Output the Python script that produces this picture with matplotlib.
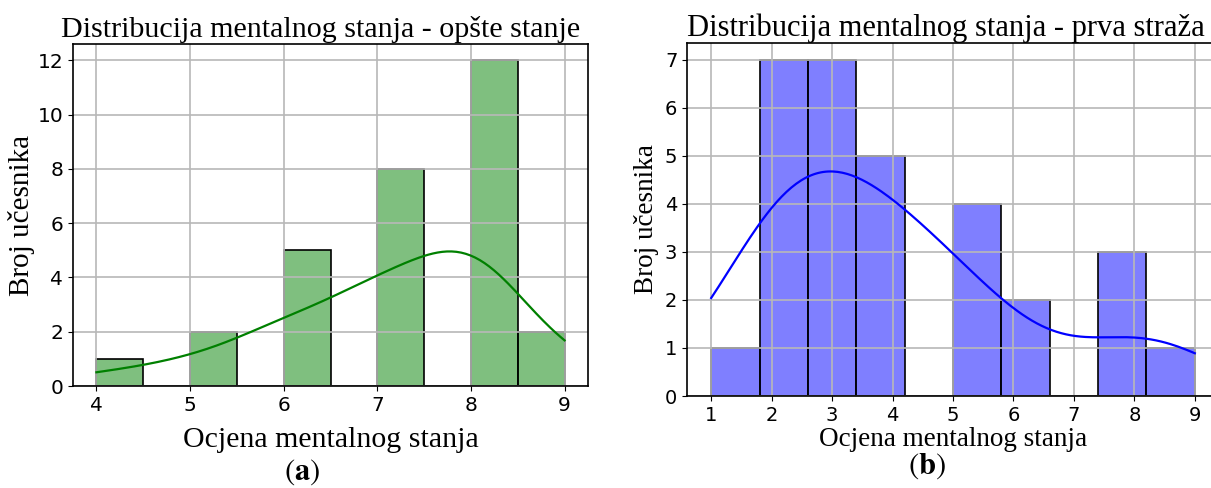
import numpy as np
import matplotlib
matplotlib.use("Agg")
import matplotlib.pyplot as plt
import seaborn as sns

# Ocjene i broj ucesnika po ocjeni
ocjene_a = [4, 5, 6, 7, 8, 9]
broj_a = [1, 2, 5, 8, 12, 2]

ocjene_b = [1, 2, 3, 4, 5, 6, 8, 9]
broj_b = [1, 7, 7, 5, 4, 2, 3, 1]

naslov_a = "Distribucija mentalnog stanja - opšte stanje"
naslov_b = "Distribucija mentalnog stanja - prva straža"
x_naziv = "Ocjena mentalnog stanja"
y_naziv = "Broj učesnika"

serif = "Liberation Serif"
plt.rcParams["mathtext.fontset"] = "stix"

fig = plt.figure(figsize=(12.11, 4.88), dpi=100)
W, H = 1211, 488

# lijevi grafik
ax1 = fig.add_axes([73 / W, (H - 386) / H, 515 / W, 342 / H])
podaci_a = np.repeat(ocjene_a, broj_a)
sns.histplot(podaci_a, bins=10, kde=True, color="green", alpha=0.5,
             edgecolor="black", linewidth=1.2, ax=ax1,
             line_kws={"linewidth": 1.6})
ax1.set_title(naslov_a, fontfamily=serif, fontsize=21.6, pad=5, x=0.48)
ax1.set_xlabel(x_naziv, fontfamily=serif, fontsize=21.5, labelpad=9)
ax1.set_ylabel(y_naziv, fontfamily=serif, fontsize=21, labelpad=2)
ax1.tick_params(labelsize=14.5)
ax1.grid(True, color="#b8b8b8", linewidth=1.2)

# desni grafik
ax2 = fig.add_axes([687 / W, (H - 396) / H, 532 / W, 353 / H])
podaci_b = np.repeat(ocjene_b, broj_b)
sns.histplot(podaci_b, bins=10, kde=True, color="blue", alpha=0.5,
             edgecolor="black", linewidth=1.2, ax=ax2,
             line_kws={"linewidth": 1.6})
ax2.set_title(naslov_b, fontfamily=serif, fontsize=22, pad=5, x=0.487)
ax2.set_xlabel(x_naziv, fontfamily=serif, fontsize=19.5, labelpad=2)
ax2.set_ylabel(y_naziv, fontfamily=serif, fontsize=19.5, labelpad=4)
ax2.tick_params(labelsize=14)
ax2.grid(True, color="#b8b8b8", linewidth=1.2)

for ax in (ax1, ax2):
    for s in ax.spines.values():
        s.set_linewidth(1.2)

fig.text(302 / W, 1 - 472 / H, r"$(\mathbf{a})$", ha="center", va="center", fontsize=22)
fig.text(927 / W, 1 - 466 / H, r"$(\mathbf{b})$", ha="center", va="center", fontsize=22)

fig.savefig("out.png", dpi=100)
